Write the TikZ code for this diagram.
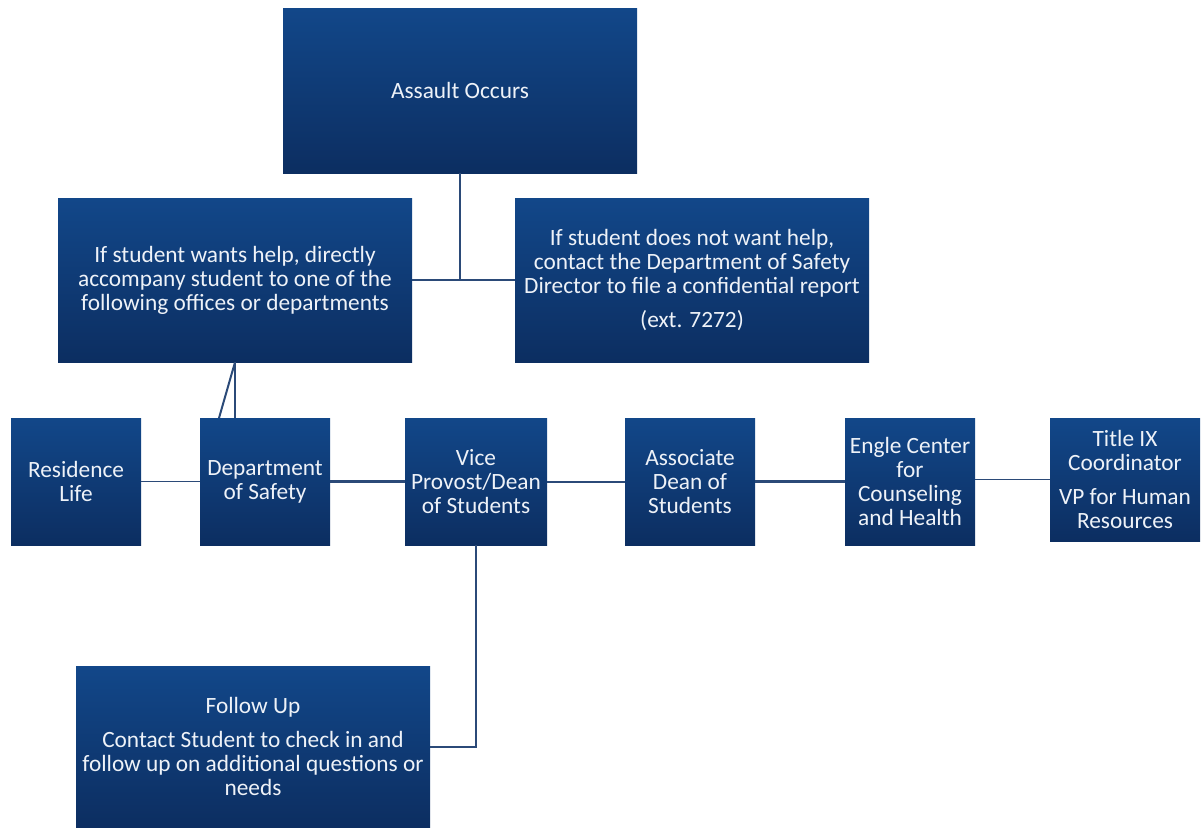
\documentclass[tikz,border=0pt]{standalone}
\usepackage{fontspec}
\setmainfont{Carlito}
\definecolor{boxtop}{HTML}{124789}
\definecolor{boxbot}{HTML}{0C2E61}
\definecolor{boxtext}{HTML}{EEF2F8}
\definecolor{linec}{HTML}{2B4A78}
\tikzset{
  box/.style={rectangle, top color=boxtop, bottom color=boxbot, draw=none,
    text=boxtext, align=center, inner sep=0pt,
    font=\fontsize{17.5}{18}\selectfont},
  conn/.style={draw=linec, line width=1.5pt},
  thin conn/.style={draw=linec, line width=1.2pt},
  thick conn/.style={draw=linec, line width=2.2pt},
}
\begin{document}
\begin{tikzpicture}[x=0.75pt,y=-0.75pt]
\useasboundingbox (0,0) rectangle (1201,828);
\node[box, minimum width=265.5pt, minimum height=123.75pt] (assault) at (460,90.5) {Assault Occurs};
\node[box, minimum width=265.5pt, minimum height=123pt] (help) at (235,280)
  {If student wants help, directly\\accompany student to one of the\\following offices or departments};
\node[box, minimum width=265.5pt, minimum height=123pt] (nohelp) at (692,280)
  {If student does not want help,\\contact the Department of Safety\\Director to file a confidential report\\[7.5pt](ext. 7272)};
\node[box, minimum width=97.5pt, minimum height=95.25pt] (res) at (76,481.5) {Residence\\Life};
\node[box, minimum width=97.5pt, minimum height=95.25pt] (dept) at (265,481.5) {Department\\of Safety};
\node[box, minimum width=106.5pt, minimum height=95.25pt] (vice) at (476,481.5) {Vice\\Provost/Dean\\of Students};
\node[box, minimum width=97.5pt, minimum height=95.25pt] (assoc) at (690,481.5) {Associate\\Dean of\\Students};
\node[box, minimum width=97.5pt, minimum height=95.25pt] (engle) at (910,481.5) {Engle Center\\for\\Counseling\\and Health};
\node[box, minimum width=112.5pt, minimum height=92.25pt] (title) at (1125,479.5) {Title IX\\Coordinator\\[7.5pt]VP for Human\\Resources};
\node[box, minimum width=265.5pt, minimum height=120.75pt] (follow) at (253,746.5)
  {Follow Up\\[7.5pt]Contact Student to check in and\\follow up on additional questions or\\needs};
\coordinate (dslant) at (219,418);
% connectors
\draw[conn] (assault.south) -- (assault.south |- help.east);
\draw[conn] (help.east) -- (nohelp.west);
\draw[conn] (help.south) -- (help.south |- dept.north);
\draw[conn] (help.south) -- (dslant);
\draw[thin conn] (res.east) -- (dept.west);
\draw[thick conn] (dept.east) -- (vice.west);
\draw[conn] (vice.east) -- (assoc.west);
\draw[thick conn] (assoc.east) -- (engle.west);
\draw[thin conn] (engle.east |- title.west) -- (title.west);
\draw[conn] (vice.south) -- (vice.south |- follow.east) -- (follow.east);
\end{tikzpicture}
\end{document}
